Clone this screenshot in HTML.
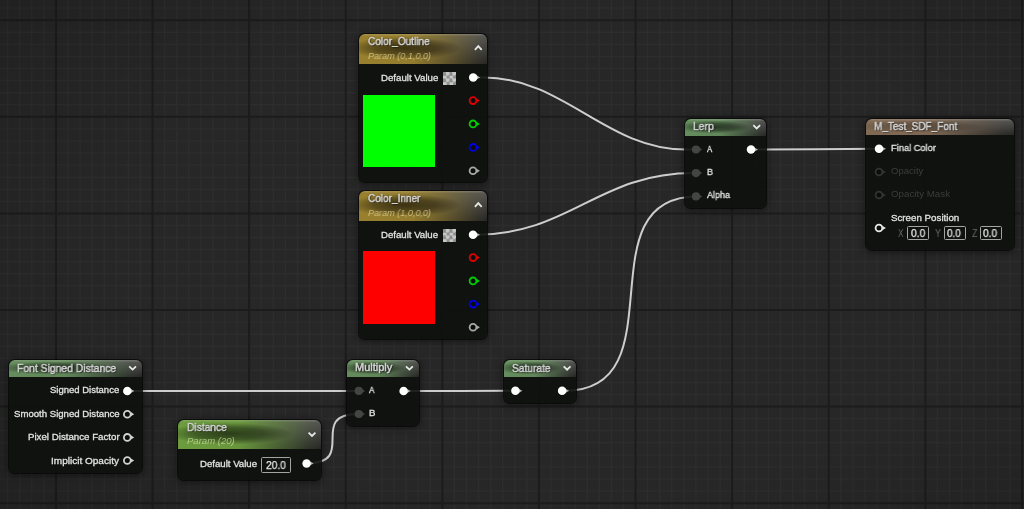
<!DOCTYPE html><html><head><meta charset="utf-8"><style>
*{margin:0;padding:0;box-sizing:border-box}
html,body{width:1024px;height:509px;overflow:hidden;background:#262626;font-family:"Liberation Sans", sans-serif}
svg.w{position:absolute;left:0;top:0}
.n{position:absolute;border-radius:6px;background:rgba(14,16,14,0.91);box-shadow:0 0 0 1px rgba(8,8,8,0.8),0 1px 6px 2px rgba(0,0,0,0.38)}
.hd{position:absolute;left:0;top:0;right:0;border-radius:6px 6px 0 0;overflow:hidden}
.t{position:absolute;white-space:nowrap;transform-origin:0 0;will-change:transform}
.box{position:absolute;border:1.2px solid #a4a4a4;border-radius:1.5px}
.sw{position:absolute}
</style></head><body>
<svg class="w" width="1024" height="509" viewBox="0 0 1024 509"><rect width="1024" height="509" fill="#272727"/><path d="M7.65 0V509M19.73 0V509M31.80 0V509M43.88 0V509M68.03 0V509M80.10 0V509M92.17 0V509M104.25 0V509M116.33 0V509M128.40 0V509M140.47 0V509M164.62 0V509M176.70 0V509M188.77 0V509M200.85 0V509M212.93 0V509M225.00 0V509M237.07 0V509M261.22 0V509M273.30 0V509M285.38 0V509M297.45 0V509M309.52 0V509M321.60 0V509M333.67 0V509M357.82 0V509M369.90 0V509M381.97 0V509M394.05 0V509M406.12 0V509M418.20 0V509M430.27 0V509M454.42 0V509M466.50 0V509M478.57 0V509M490.65 0V509M502.72 0V509M514.80 0V509M526.88 0V509M551.02 0V509M563.10 0V509M575.18 0V509M587.25 0V509M599.33 0V509M611.40 0V509M623.48 0V509M647.62 0V509M659.70 0V509M671.77 0V509M683.85 0V509M695.92 0V509M708.00 0V509M720.08 0V509M744.23 0V509M756.30 0V509M768.38 0V509M780.45 0V509M792.52 0V509M804.60 0V509M816.67 0V509M840.83 0V509M852.90 0V509M864.98 0V509M877.05 0V509M889.12 0V509M901.20 0V509M913.27 0V509M937.42 0V509M949.50 0V509M961.58 0V509M973.65 0V509M985.73 0V509M997.80 0V509M1009.88 0V509M0 8.12H1024M0 32.27H1024M0 44.35H1024M0 56.42H1024M0 68.50H1024M0 80.58H1024M0 92.65H1024M0 104.72H1024M0 128.88H1024M0 140.95H1024M0 153.02H1024M0 165.10H1024M0 177.17H1024M0 189.25H1024M0 201.32H1024M0 225.47H1024M0 237.55H1024M0 249.62H1024M0 261.70H1024M0 273.77H1024M0 285.85H1024M0 297.92H1024M0 322.07H1024M0 334.15H1024M0 346.22H1024M0 358.30H1024M0 370.37H1024M0 382.45H1024M0 394.52H1024M0 418.67H1024M0 430.75H1024M0 442.82H1024M0 454.90H1024M0 466.97H1024M0 479.05H1024M0 491.12H1024" stroke="#2d2d2d" stroke-width="1.5" fill="none"/><path d="M55.95 0V509M152.55 0V509M249.15 0V509M345.75 0V509M442.35 0V509M538.95 0V509M635.55 0V509M732.15 0V509M828.75 0V509M925.35 0V509M1021.95 0V509M0 20.20H1024M0 116.80H1024M0 213.40H1024M0 310.00H1024M0 406.60H1024M0 503.20H1024" stroke="#1c1c1c" stroke-width="2" fill="none"/></svg><div style="position:absolute;left:0;top:0;width:1024px;height:509px;background:radial-gradient(ellipse 75% 85% at 55% 50%, rgba(0,0,0,0) 55%, rgba(0,0,0,0.18) 100%)"></div>
<svg class="w" width="1024" height="509" viewBox="0 0 1024 509"><g fill="none" stroke="#cdcdcd" stroke-width="2"><path d="M473.2 77.6H484C564 77.6 606 149.6 686 149.6H696"/><path d="M473 234.8H474C571 234.8 597 173.1 694 173.1H696"/><path d="M562.1 390.8H565C680 390.8 582 196.4 697 196.4"/><path d="M751 149.6 C791 149.6 839 148.8 879 148.8"/><path d="M127.3 391 C187.3 391 298.8 390.9 358.8 390.9"/><path d="M306.6 463.4 C358.6 463.4 306.5 414 358.5 414"/><path d="M403.6 391 C443.6 391 475.4 390.8 515.4 390.8"/></g></svg>
<div class="n" style="left:359px;top:34px;width:128px;height:148px"><div class="hd" style="height:30px;background:linear-gradient(to bottom, rgba(255,255,255,0.16) 0px, rgba(255,255,255,0) 2.5px),radial-gradient(ellipse 44% 38% at 36% 47%, rgba(0,0,0,0.60) 0%, rgba(0,0,0,0.40) 55%, rgba(0,0,0,0) 100%),linear-gradient(to right, rgba(152,128,46,1) 0%, rgba(152,128,46,0.95) 42%, rgba(152,128,46,0.1) 92%, rgba(152,128,46,0) 100%),linear-gradient(to bottom, #585856 0%, #262625 100%)"></div></div>
<div class="n" style="left:359px;top:191px;width:128px;height:148px"><div class="hd" style="height:30px;background:linear-gradient(to bottom, rgba(255,255,255,0.16) 0px, rgba(255,255,255,0) 2.5px),radial-gradient(ellipse 44% 38% at 36% 47%, rgba(0,0,0,0.60) 0%, rgba(0,0,0,0.40) 55%, rgba(0,0,0,0) 100%),linear-gradient(to right, rgba(152,128,46,1) 0%, rgba(152,128,46,0.95) 42%, rgba(152,128,46,0.1) 92%, rgba(152,128,46,0) 100%),linear-gradient(to bottom, #585856 0%, #262625 100%)"></div></div>
<div class="n" style="left:685px;top:119px;width:81px;height:89px"><div class="hd" style="height:17px;background:linear-gradient(to bottom, rgba(255,255,255,0.16) 0px, rgba(255,255,255,0) 2.5px),radial-gradient(ellipse 44% 38% at 36% 47%, rgba(0,0,0,0.60) 0%, rgba(0,0,0,0.40) 55%, rgba(0,0,0,0) 100%),linear-gradient(to right, rgba(100,140,92,1) 0%, rgba(100,140,92,0.95) 42%, rgba(100,140,92,0.1) 92%, rgba(100,140,92,0) 100%),linear-gradient(to bottom, #585856 0%, #262625 100%)"></div></div>
<div class="n" style="left:866px;top:119px;width:148px;height:131px"><div class="hd" style="height:16.3px;background:linear-gradient(to bottom, rgba(255,255,255,0.16) 0px, rgba(255,255,255,0) 2.5px),radial-gradient(ellipse 44% 38% at 36% 47%, rgba(0,0,0,0.27) 0%, rgba(0,0,0,0.18) 55%, rgba(0,0,0,0) 100%),linear-gradient(to right, rgba(130,107,85,1) 0%, rgba(130,107,85,0.95) 42%, rgba(130,107,85,0.1) 92%, rgba(130,107,85,0) 100%),linear-gradient(to bottom, #585856 0%, #262625 100%)"></div></div>
<div class="n" style="left:9px;top:360px;width:133px;height:113px"><div class="hd" style="height:17px;background:linear-gradient(to bottom, rgba(255,255,255,0.16) 0px, rgba(255,255,255,0) 2.5px),radial-gradient(ellipse 44% 38% at 36% 47%, rgba(0,0,0,0.60) 0%, rgba(0,0,0,0.40) 55%, rgba(0,0,0,0) 100%),linear-gradient(to right, rgba(100,140,92,1) 0%, rgba(100,140,92,0.95) 42%, rgba(100,140,92,0.1) 92%, rgba(100,140,92,0) 100%),linear-gradient(to bottom, #585856 0%, #262625 100%)"></div></div>
<div class="n" style="left:178.3px;top:420px;width:143px;height:59.5px"><div class="hd" style="height:29px;background:linear-gradient(to bottom, rgba(255,255,255,0.16) 0px, rgba(255,255,255,0) 2.5px),radial-gradient(ellipse 44% 38% at 36% 47%, rgba(0,0,0,0.60) 0%, rgba(0,0,0,0.40) 55%, rgba(0,0,0,0) 100%),linear-gradient(to right, rgba(108,156,62,1) 0%, rgba(108,156,62,0.95) 42%, rgba(108,156,62,0.1) 92%, rgba(108,156,62,0) 100%),linear-gradient(to bottom, #585856 0%, #262625 100%)"></div></div>
<div class="n" style="left:347px;top:360px;width:71.5px;height:66.3px"><div class="hd" style="height:17px;background:linear-gradient(to bottom, rgba(255,255,255,0.16) 0px, rgba(255,255,255,0) 2.5px),radial-gradient(ellipse 44% 38% at 36% 47%, rgba(0,0,0,0.60) 0%, rgba(0,0,0,0.40) 55%, rgba(0,0,0,0) 100%),linear-gradient(to right, rgba(100,140,92,1) 0%, rgba(100,140,92,0.95) 42%, rgba(100,140,92,0.1) 92%, rgba(100,140,92,0) 100%),linear-gradient(to bottom, #585856 0%, #262625 100%)"></div></div>
<div class="n" style="left:504px;top:360px;width:72px;height:43px"><div class="hd" style="height:17px;background:linear-gradient(to bottom, rgba(255,255,255,0.16) 0px, rgba(255,255,255,0) 2.5px),radial-gradient(ellipse 44% 38% at 36% 47%, rgba(0,0,0,0.60) 0%, rgba(0,0,0,0.40) 55%, rgba(0,0,0,0) 100%),linear-gradient(to right, rgba(100,140,92,1) 0%, rgba(100,140,92,0.95) 42%, rgba(100,140,92,0.1) 92%, rgba(100,140,92,0) 100%),linear-gradient(to bottom, #585856 0%, #262625 100%)"></div></div>
<div class="sw" style="left:362.9px;top:94.6px;width:72.5px;height:72.3px;background:#00ff00"></div>
<div class="sw" style="left:362.8px;top:251.4px;width:72.5px;height:72.4px;background:#ff0000"></div>
<div class="sw" style="left:443px;top:71.5px;width:13px;height:13px;background:repeating-conic-gradient(#c6c6c6 0 25%, #8c8c8c 0 50%) 0 0/6.5px 6.5px"></div>
<div class="sw" style="left:443px;top:228.5px;width:13px;height:13px;background:repeating-conic-gradient(#c6c6c6 0 25%, #8c8c8c 0 50%) 0 0/6.5px 6.5px"></div>
<div class="box" style="left:907px;top:225.9px;width:22px;height:14.5px"></div>
<div class="box" style="left:944px;top:225.9px;width:22px;height:14.5px"></div>
<div class="box" style="left:980.2px;top:225.9px;width:21.8px;height:14.5px"></div>
<div class="box" style="left:261.2px;top:457.2px;width:29.5px;height:15.6px"></div>
<div class="t" style="left:368.40px;top:36.29px;font-size:11px;line-height:11px;transform:scaleX(0.917);color:#d4d4d4;-webkit-text-stroke:0.5px #d4d4d4;text-shadow:0 0 2px rgba(0,0,0,0.6),1px 1px 1px rgba(0,0,0,0.45);">Color_Outline</div><div class="t" style="left:368.40px;top:50.56px;font-size:9.5px;line-height:9.5px;transform:scaleX(0.955);font-style:italic;color:rgba(236,222,160,0.7);">Param (0,1,0,0)</div><div class="t" style="left:381.30px;top:73.26px;font-size:9.5px;line-height:9.5px;transform:scaleX(1.017);color:#e2e2e2;-webkit-text-stroke:0.3px #e2e2e2;">Default Value</div><div class="t" style="left:368.20px;top:193.19px;font-size:11px;line-height:11px;transform:scaleX(0.912);color:#d4d4d4;-webkit-text-stroke:0.5px #d4d4d4;text-shadow:0 0 2px rgba(0,0,0,0.6),1px 1px 1px rgba(0,0,0,0.45);">Color_Inner</div><div class="t" style="left:368.20px;top:207.56px;font-size:9.5px;line-height:9.5px;transform:scaleX(0.955);font-style:italic;color:rgba(236,222,160,0.7);">Param (1,0,0,0)</div><div class="t" style="left:381.30px;top:230.46px;font-size:9.5px;line-height:9.5px;transform:scaleX(1.013);color:#e2e2e2;-webkit-text-stroke:0.3px #e2e2e2;">Default Value</div><div class="t" style="left:693.40px;top:121.39px;font-size:11px;line-height:11px;transform:scaleX(0.941);color:#d4d4d4;-webkit-text-stroke:0.5px #d4d4d4;text-shadow:0 0 2px rgba(0,0,0,0.6),1px 1px 1px rgba(0,0,0,0.45);">Lerp</div><div class="t" style="left:706.90px;top:144.16px;font-size:9.5px;line-height:9.5px;transform:scaleX(0.814);color:#e2e2e2;-webkit-text-stroke:0.3px #e2e2e2;">A</div><div class="t" style="left:706.90px;top:167.36px;font-size:9.5px;line-height:9.5px;transform:scaleX(0.950);color:#e2e2e2;-webkit-text-stroke:0.3px #e2e2e2;">B</div><div class="t" style="left:706.90px;top:190.06px;font-size:9.5px;line-height:9.5px;transform:scaleX(0.947);color:#e2e2e2;-webkit-text-stroke:0.3px #e2e2e2;">Alpha</div><div class="t" style="left:873.90px;top:120.79px;font-size:11px;line-height:11px;transform:scaleX(0.907);color:#d4d4d4;-webkit-text-stroke:0.5px #d4d4d4;text-shadow:0 0 2px rgba(0,0,0,0.6),1px 1px 1px rgba(0,0,0,0.45);">M_Test_SDF_Font</div><div class="t" style="left:890.80px;top:143.26px;font-size:9.5px;line-height:9.5px;transform:scaleX(0.979);color:#e2e2e2;-webkit-text-stroke:0.3px #e2e2e2;">Final Color</div><div class="t" style="left:890.70px;top:166.16px;font-size:9.5px;line-height:9.5px;transform:scaleX(1.004);color:#3c3c3c;">Opacity</div><div class="t" style="left:890.70px;top:189.36px;font-size:9.5px;line-height:9.5px;transform:scaleX(1.026);color:#3c3c3c;">Opacity Mask</div><div class="t" style="left:890.70px;top:212.66px;font-size:9.5px;line-height:9.5px;transform:scaleX(1.026);color:#e2e2e2;-webkit-text-stroke:0.3px #e2e2e2;">Screen Position</div><div class="t" style="left:897.60px;top:228.01px;font-size:10.5px;line-height:10.5px;transform:scaleX(0.771);color:#686868;">X</div><div class="t" style="left:935.00px;top:228.01px;font-size:10.5px;line-height:10.5px;transform:scaleX(0.857);color:#686868;">Y</div><div class="t" style="left:972.00px;top:228.01px;font-size:10.5px;line-height:10.5px;transform:scaleX(0.857);color:#686868;">Z</div><div class="t" style="left:910.80px;top:228.01px;font-size:10.5px;line-height:10.5px;transform:scaleX(0.976);color:#e6e6e6;-webkit-text-stroke:0.25px #e6e6e6;">0.0</div><div class="t" style="left:947.30px;top:228.01px;font-size:10.5px;line-height:10.5px;transform:scaleX(0.942);color:#e6e6e6;-webkit-text-stroke:0.25px #e6e6e6;">0.0</div><div class="t" style="left:983.40px;top:228.01px;font-size:10.5px;line-height:10.5px;transform:scaleX(0.962);color:#e6e6e6;-webkit-text-stroke:0.25px #e6e6e6;">0.0</div><div class="t" style="left:17.20px;top:362.69px;font-size:11px;line-height:11px;transform:scaleX(0.943);color:#d4d4d4;-webkit-text-stroke:0.5px #d4d4d4;text-shadow:0 0 2px rgba(0,0,0,0.6),1px 1px 1px rgba(0,0,0,0.45);">Font Signed Distance</div><div class="t" style="left:50.30px;top:385.36px;font-size:9.5px;line-height:9.5px;transform:scaleX(1.000);color:#e2e2e2;-webkit-text-stroke:0.3px #e2e2e2;">Signed Distance</div><div class="t" style="left:13.90px;top:408.66px;font-size:9.5px;line-height:9.5px;transform:scaleX(1.010);color:#e2e2e2;-webkit-text-stroke:0.3px #e2e2e2;">Smooth Signed Distance</div><div class="t" style="left:27.70px;top:431.96px;font-size:9.5px;line-height:9.5px;transform:scaleX(1.021);color:#e2e2e2;-webkit-text-stroke:0.3px #e2e2e2;">Pixel Distance Factor</div><div class="t" style="left:51.00px;top:455.56px;font-size:9.5px;line-height:9.5px;transform:scaleX(1.055);color:#e2e2e2;-webkit-text-stroke:0.3px #e2e2e2;">Implicit Opacity</div><div class="t" style="left:186.90px;top:422.09px;font-size:11px;line-height:11px;transform:scaleX(0.930);color:#d4d4d4;-webkit-text-stroke:0.5px #d4d4d4;text-shadow:0 0 2px rgba(0,0,0,0.6),1px 1px 1px rgba(0,0,0,0.45);">Distance</div><div class="t" style="left:187.40px;top:436.46px;font-size:9.5px;line-height:9.5px;transform:scaleX(1.005);font-style:italic;color:rgba(215,235,160,0.68);">Param (20)</div><div class="t" style="left:200.40px;top:459.16px;font-size:9.5px;line-height:9.5px;transform:scaleX(1.012);color:#e2e2e2;-webkit-text-stroke:0.3px #e2e2e2;">Default Value</div><div class="t" style="left:265.70px;top:459.61px;font-size:10.5px;line-height:10.5px;transform:scaleX(0.976);color:#e6e6e6;-webkit-text-stroke:0.25px #e6e6e6;">20.0</div><div class="t" style="left:355.20px;top:362.49px;font-size:11px;line-height:11px;transform:scaleX(1.000);color:#d4d4d4;-webkit-text-stroke:0.5px #d4d4d4;text-shadow:0 0 2px rgba(0,0,0,0.6),1px 1px 1px rgba(0,0,0,0.45);">Multiply</div><div class="t" style="left:368.90px;top:385.46px;font-size:9.5px;line-height:9.5px;transform:scaleX(0.871);color:#e2e2e2;-webkit-text-stroke:0.3px #e2e2e2;">A</div><div class="t" style="left:368.90px;top:408.16px;font-size:9.5px;line-height:9.5px;transform:scaleX(1.017);color:#e2e2e2;-webkit-text-stroke:0.3px #e2e2e2;">B</div><div class="t" style="left:512.30px;top:362.59px;font-size:11px;line-height:11px;transform:scaleX(0.926);color:#d4d4d4;-webkit-text-stroke:0.5px #d4d4d4;text-shadow:0 0 2px rgba(0,0,0,0.6),1px 1px 1px rgba(0,0,0,0.45);">Saturate</div>
<svg class="w" width="1024" height="509" viewBox="0 0 1024 509"><circle cx="473.2" cy="77.4" r="4.9" fill="rgba(0,0,0,0.35)"/><path d="M476.8 75.5 L480.2 77.4 L476.8 79.30000000000001 Z" fill="#b4b4b4"/><circle cx="473.2" cy="77.4" r="4.25" fill="#fff"/><path d="M476.6 98.5 L479.9 100.6 L476.6 102.69999999999999 Z" fill="#e00000"/><circle cx="473" cy="100.6" r="3.4" fill="#0c0c0c" stroke="#e00000" stroke-width="1.8"/><path d="M476.6 121.80000000000001 L479.9 123.9 L476.6 126.0 Z" fill="#00d000"/><circle cx="473" cy="123.9" r="3.4" fill="#0c0c0c" stroke="#00d000" stroke-width="1.8"/><path d="M476.6 145.3 L479.9 147.4 L476.6 149.5 Z" fill="#0000e0"/><circle cx="473" cy="147.4" r="3.4" fill="#0c0c0c" stroke="#0000e0" stroke-width="1.8"/><path d="M476.6 168.70000000000002 L479.9 170.8 L476.6 172.9 Z" fill="#a8a8a8"/><circle cx="473" cy="170.8" r="3.4" fill="#0c0c0c" stroke="#a8a8a8" stroke-width="1.8"/><circle cx="473" cy="234.8" r="4.9" fill="rgba(0,0,0,0.35)"/><path d="M476.6 232.9 L480.0 234.8 L476.6 236.70000000000002 Z" fill="#b4b4b4"/><circle cx="473" cy="234.8" r="4.25" fill="#fff"/><path d="M476.6 255.50000000000003 L479.9 257.6 L476.6 259.70000000000005 Z" fill="#e00000"/><circle cx="473" cy="257.6" r="3.4" fill="#0c0c0c" stroke="#e00000" stroke-width="1.8"/><path d="M476.6 278.79999999999995 L479.9 280.9 L476.6 283.0 Z" fill="#00d000"/><circle cx="473" cy="280.9" r="3.4" fill="#0c0c0c" stroke="#00d000" stroke-width="1.8"/><path d="M476.6 302.0 L479.9 304.1 L476.6 306.20000000000005 Z" fill="#0000e0"/><circle cx="473" cy="304.1" r="3.4" fill="#0c0c0c" stroke="#0000e0" stroke-width="1.8"/><path d="M476.6 325.2 L479.9 327.3 L476.6 329.40000000000003 Z" fill="#a8a8a8"/><circle cx="473" cy="327.3" r="3.4" fill="#0c0c0c" stroke="#a8a8a8" stroke-width="1.8"/><path d="M699.2 147.5 L702.2 149.5 L699.2 151.5 Z" fill="#444444"/><circle cx="696" cy="149.5" r="4.1" fill="#444444"/><path d="M699.2 171.1 L702.2 173.1 L699.2 175.1 Z" fill="#444444"/><circle cx="696" cy="173.1" r="4.1" fill="#444444"/><path d="M699.2 194.4 L702.2 196.4 L699.2 198.4 Z" fill="#444444"/><circle cx="696" cy="196.4" r="4.1" fill="#444444"/><circle cx="751" cy="149.6" r="4.9" fill="rgba(0,0,0,0.35)"/><path d="M754.6 147.7 L758.0 149.6 L754.6 151.5 Z" fill="#b4b4b4"/><circle cx="751" cy="149.6" r="4.25" fill="#fff"/><circle cx="879" cy="148.8" r="4.9" fill="rgba(0,0,0,0.35)"/><path d="M882.6 146.9 L886.0 148.8 L882.6 150.70000000000002 Z" fill="#b4b4b4"/><circle cx="879" cy="148.8" r="4.25" fill="#fff"/><path d="M882.6 169.9 L885.9 172 L882.6 174.1 Z" fill="#333333"/><circle cx="879" cy="172" r="3.4" fill="#0c0c0c" stroke="#333333" stroke-width="1.8"/><path d="M882.6 192.9 L885.9 195 L882.6 197.1 Z" fill="#333333"/><circle cx="879" cy="195" r="3.4" fill="#0c0c0c" stroke="#333333" stroke-width="1.8"/><path d="M882.6 225.9 L885.9 228 L882.6 230.1 Z" fill="#e8e8e8"/><circle cx="879" cy="228" r="3.4" fill="#0c0c0c" stroke="#e8e8e8" stroke-width="1.8"/><circle cx="127.3" cy="391" r="4.9" fill="rgba(0,0,0,0.35)"/><path d="M130.9 389.1 L134.3 391 L130.9 392.9 Z" fill="#b4b4b4"/><circle cx="127.3" cy="391" r="4.25" fill="#fff"/><path d="M130.9 412.09999999999997 L134.2 414.2 L130.9 416.3 Z" fill="#d2d2d2"/><circle cx="127.3" cy="414.2" r="3.4" fill="#0c0c0c" stroke="#d2d2d2" stroke-width="1.8"/><path d="M130.9 435.29999999999995 L134.2 437.4 L130.9 439.5 Z" fill="#d2d2d2"/><circle cx="127.3" cy="437.4" r="3.4" fill="#0c0c0c" stroke="#d2d2d2" stroke-width="1.8"/><path d="M130.9 458.4 L134.2 460.5 L130.9 462.6 Z" fill="#d2d2d2"/><circle cx="127.3" cy="460.5" r="3.4" fill="#0c0c0c" stroke="#d2d2d2" stroke-width="1.8"/><circle cx="306.6" cy="463.4" r="4.9" fill="rgba(0,0,0,0.35)"/><path d="M310.20000000000005 461.5 L313.6 463.4 L310.20000000000005 465.29999999999995 Z" fill="#b4b4b4"/><circle cx="306.6" cy="463.4" r="4.25" fill="#fff"/><path d="M362.0 388.9 L365.0 390.9 L362.0 392.9 Z" fill="#444444"/><circle cx="358.8" cy="390.9" r="4.1" fill="#444444"/><path d="M362.0 412.0 L365.0 414 L362.0 416.0 Z" fill="#444444"/><circle cx="358.8" cy="414" r="4.1" fill="#444444"/><circle cx="403.6" cy="391" r="4.9" fill="rgba(0,0,0,0.35)"/><path d="M407.20000000000005 389.1 L410.6 391 L407.20000000000005 392.9 Z" fill="#b4b4b4"/><circle cx="403.6" cy="391" r="4.25" fill="#fff"/><circle cx="515.4" cy="390.8" r="4.9" fill="rgba(0,0,0,0.35)"/><path d="M519.0 388.90000000000003 L522.4 390.8 L519.0 392.7 Z" fill="#b4b4b4"/><circle cx="515.4" cy="390.8" r="4.25" fill="#fff"/><circle cx="562.1" cy="390.8" r="4.9" fill="rgba(0,0,0,0.35)"/><path d="M565.7 388.90000000000003 L569.1 390.8 L565.7 392.7 Z" fill="#b4b4b4"/><circle cx="562.1" cy="390.8" r="4.25" fill="#fff"/><path d="M474.90000000000003 49.8 L478.3 46.1 L481.7 49.8" fill="none" stroke="#e8e8e8" stroke-width="1.8"/><path d="M474.90000000000003 206.8 L478.3 203.1 L481.7 206.8" fill="none" stroke="#e8e8e8" stroke-width="1.8"/><path d="M753.3000000000001 125.2 L756.7 128.5 L760.1 125.2" fill="none" stroke="#e8e8e8" stroke-width="1.8"/><path d="M129.2 366.29999999999995 L132.6 369.59999999999997 L136.0 366.29999999999995" fill="none" stroke="#e8e8e8" stroke-width="1.8"/><path d="M308.6 432.59999999999997 L312 435.9 L315.4 432.59999999999997" fill="none" stroke="#e8e8e8" stroke-width="1.8"/><path d="M406.0 366.29999999999995 L409.4 369.59999999999997 L412.79999999999995 366.29999999999995" fill="none" stroke="#e8e8e8" stroke-width="1.8"/><path d="M563.7 366.4 L567.1 369.7 L570.5 366.4" fill="none" stroke="#e8e8e8" stroke-width="1.8"/></svg>
</body></html>
